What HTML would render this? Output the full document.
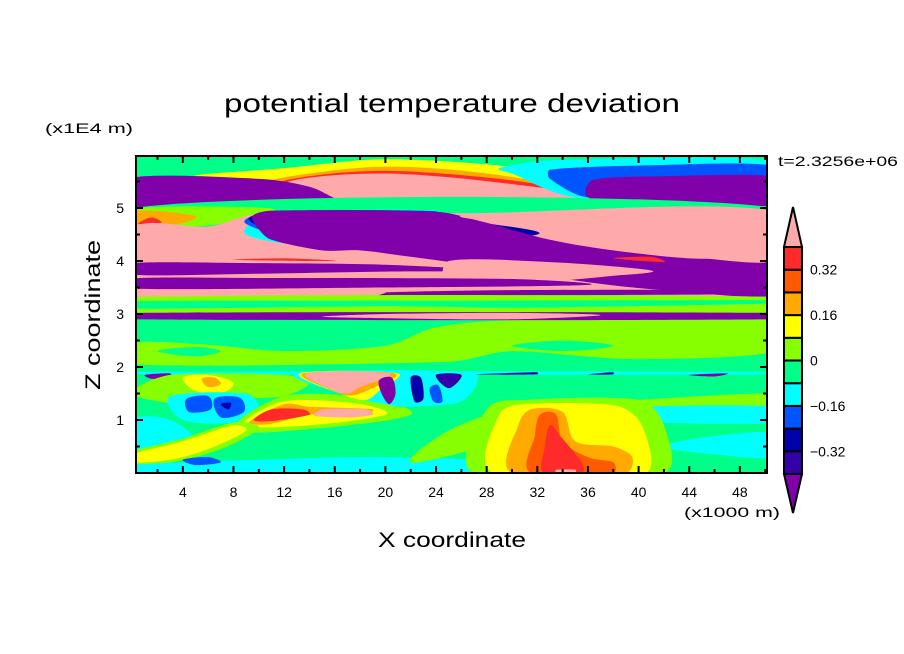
<!DOCTYPE html>
<html><head><meta charset="utf-8"><style>
html,body{margin:0;padding:0;background:#fff;}
svg{display:block;font-family:"Liberation Sans",sans-serif;}
</style></head><body>
<svg id="chart" width="904" height="654" viewBox="0 0 904 654">
<defs><clipPath id="pc"><rect x="136" y="156" width="631" height="317"/></clipPath></defs>
<text x="452" y="112" text-anchor="middle" font-size="26" textLength="456" lengthAdjust="spacingAndGlyphs">potential temperature deviation</text>
<text x="45" y="133" font-size="14" textLength="88" lengthAdjust="spacingAndGlyphs">(x1E4 m)</text>
<text x="778" y="166" font-size="14" textLength="120" lengthAdjust="spacingAndGlyphs">t=2.3256e+06</text>
<text x="684" y="517" font-size="14" textLength="96" lengthAdjust="spacingAndGlyphs">(x1000 m)</text>
<text x="452" y="547" text-anchor="middle" font-size="21" textLength="148" lengthAdjust="spacingAndGlyphs">X coordinate</text>
<text transform="translate(100,315) rotate(-90)" text-anchor="middle" font-size="21" textLength="150" lengthAdjust="spacingAndGlyphs">Z coordinate</text>
<g id="fields" clip-path="url(#pc)"></g>
<rect x="136" y="156" width="631" height="317" fill="none" stroke="#000" stroke-width="2"/>
<g id="ticks"></g>
<g id="cbar"></g>
</svg>
<script>
const NS="http://www.w3.org/2000/svg";
const colors={P:"#ffaaaa",R:"#ff2a2a",OR:"#ff5a00",O:"#ffaa00",Y:"#ffff00",YG:"#88ff00",G:"#00ff88",C:"#00ffff",B:"#0055ff",DB:"#0000aa",IN:"#3300aa",PU:"#8000aa"};
const xTicks=[4,8,12,16,20,24,28,32,36,40,44,48];
const zTicks=[1,2,3,4,5];
const cbLevels=["PU","IN","DB","B","C","G","YG","Y","O","OR","R","P"];
const cbLabels=["-0.32","-0.16","0","0.16","0.32"];
const cbLabelVals=[-0.32,-0.16,0,0.16,0.32];
const regionLevels=["G","YG","G","G","G","YG","Y","O","R","P","C","B","PU","PU","G","YG","O","R","P","C","B","DB","PU","P","PU","P","G","R","R","PU","PU","P","YG","G","PU","P","C","PU","PU","IN","PU","IN","PU","YG","Y","O","C","B","B","DB","YG","Y","O","R","P","C","Y","O","P","PU","DB","IN","B","C","YG","Y","C","B","YG","C","C","YG","Y","O","OR","R","P"];
const regionShapes=[
[[0,0],[51,0],[51,6.1],[0,6.1]],
[[0,2.05],[0,2.45],[6,2.42],[12,2.3],[20,2.4],[24,2.75],[30,2.88],[51,2.88],[51,2.3],[40,2.15],[30,2.3],[25,2.1]],
[[2,2.3],[5,2.38],[7,2.3],[5,2.2]],
[[30,2.4],[34,2.5],[38,2.4],[34,2.3]],
[[0,2.95],[51,2.95],[51,3.35],[0,3.35]],
[[0,3.08],[20,3.12],[35,3.1],[51,3.2],[51,3.28],[30,3.25],[0,3.22]],
[[5,5.6],[12,5.75],[20,5.92],[30,5.78],[35,5.55],[30,5.4],[15,5.5]],
[[10,5.45],[14,5.65],[20,5.78],[27,5.68],[33,5.45],[38,5.12],[30,5.05],[18,5.05],[12,5.2]],
[[11.3,5.45],[15,5.63],[20,5.7],[26,5.62],[32,5.45],[38.5,5.12],[30,5.07],[18,5.05],[13,5.18]],
[[12,5.45],[15,5.6],[20,5.65],[25,5.58],[30,5.45],[35,5.3],[38,5.15],[33,5.12],[25,5.08],[18,5.06],[14,5.15]],
[[29,5.75],[33,5.9],[51,5.88],[51,5.1],[35,5.2],[30,5.65]],
[[33,5.72],[40,5.8],[51,5.78],[51,5.1],[36,5.2],[33,5.55]],
[[36.4,5.53],[42,5.6],[51,5.58],[51,5.06],[40,5.08],[36,5.2]],
[[0,5.57],[10,5.55],[14,5.4],[17,5.1],[22,5.03],[0,5.03]],
[[0,3.32],[51,3.32],[51,5.0],[0,5.0]],
[[0,4.62],[5,4.65],[8,4.75],[11,4.99],[0,4.99]],
[[0,4.65],[3,4.66],[5,4.85],[0,4.95]],
[[0.5,4.7],[1.5,4.82],[2.3,4.72]],
[[0,3.32],[51,3.32],[51,4.92],[26,4.9],[12,4.95],[9,4.85],[6,4.65],[0,4.62]],
[[9,4.5],[11,4.9],[24,4.95],[22,4.7],[15,4.3]],
[[9,4.7],[11,4.93],[24,4.94],[23,4.75],[15,4.35]],
[[9.2,4.78],[11,4.92],[24,4.93],[27,4.75],[32,4.5],[20,4.3],[12,4.5]],
[[9.5,4.85],[11,4.95],[24,4.93],[28,4.72],[33,4.4],[38,4.2],[44,4.05],[51,4.0],[51,3.35],[42,3.45],[36,3.6],[30,3.82],[26,3.95],[22,4.08],[18,4.2],[15,4.2],[11,4.4],[10,4.6]],
[[26,4.85],[32,4.88],[40,4.9],[51,4.9],[51,4.02],[44,4.08],[40,4.18],[36,4.38],[32,4.58],[28,4.75]],
[[0,3.74],[10,3.76],[20,3.8],[28,3.82],[20,3.93],[10,3.96],[0,3.96]],
[[25,3.55],[32,3.6],[38,3.72],[41,3.82],[33,3.98],[25,4.0]],
[[0,3.32],[51,3.32],[51,3.0],[0,3.0]],
[[38,4.05],[41,4.08],[42,3.98]],
[[8,4.02],[12,4.05],[16,4.0]],
[[0,3.48],[20,3.5],[36,3.55],[30,3.66],[10,3.68],[0,3.67]],
[[19,3.32],[30,3.35],[51,3.38],[51,3.45],[30,3.45],[19,3.4]],
[[0,3.33],[19,3.34],[20,3.42],[0,3.45]],
[[0,3.02],[51,3.02],[51,3.32],[0,3.32]],
[[0,3.1],[20,3.15],[30,3.12],[51,3.2],[51,3.26],[25,3.25],[0,3.24]],
[[0,2.9],[51,2.9],[51,3.02],[0,3.02]],
[[15,2.95],[20,3.0],[30,3.02],[37,2.98],[30,2.9],[20,2.92]],
[[0,1.86],[51,1.86],[51,1.91],[0,1.91]],
[[1,1.85],[3,1.88],[3,1.8],[1.5,1.78]],
[[5,1.82],[7,1.88],[6.5,1.8]],
[[27,1.86],[32,1.9],[32,1.86]],
[[21,1.86],[23,1.9],[22.5,1.84]],
[[36,1.86],[38,1.9],[38,1.86]],
[[44,1.85],[47,1.88],[46,1.82]],
[[0,1.5],[3,1.85],[12,1.85],[14,1.7],[12,1.45],[8,1.4],[4,1.3]],
[[4,1.8],[6,1.85],[8,1.7],[7,1.5],[5,1.55]],
[[5.5,1.78],[6.5,1.8],[7,1.68],[6,1.62]],
[[3,1.45],[9,1.5],[10,1.2],[8,0.95],[4,1.0]],
[[4.3,1.4],[6,1.45],[6.2,1.2],[4.5,1.15]],
[[6.5,1.4],[8.5,1.42],[8.8,1.15],[7,1.05]],
[[7,1.3],[7.8,1.32],[7.6,1.2]],
[[8,0.8],[12,1.45],[19,1.4],[22,1.1],[15,0.85]],
[[8.8,0.9],[12,1.35],[18,1.3],[20,1.1],[14,0.9]],
[[9.2,0.95],[12,1.3],[14,1.25],[19,1.2],[18.5,1.1],[14,1.1],[11,0.93]],
[[9.6,1.0],[11,1.2],[13.5,1.2],[14,1.1],[11,0.98]],
[[14.4,1.08],[15,1.2],[18.5,1.2],[19,1.1],[17,1.05]],
[[13,1.88],[27,1.88],[26,1.35],[21,1.25],[20,1.3],[18,1.4]],
[[13.2,1.88],[21,1.88],[19.5,1.55],[18.5,1.38],[17,1.45]],
[[13.5,1.88],[20.7,1.88],[18.5,1.55],[17.3,1.46],[16.2,1.52]],
[[13.8,1.88],[20.3,1.88],[18,1.62],[17,1.5],[16,1.55]],
[[19.5,1.75],[20.5,1.8],[20.8,1.5],[20.3,1.3],[19.7,1.5]],
[[22,1.8],[22.8,1.8],[23,1.4],[22.3,1.35]],
[[24,1.85],[26,1.85],[25,1.6]],
[[23.5,1.6],[24.2,1.65],[24.5,1.35],[23.8,1.35]],
[[0,0.3],[0,1.0],[3,1.0],[5,0.6],[3,0.3]],
[[0,0.15],[0,0.4],[4,0.65],[8,0.95],[10,0.85],[7,0.45],[3,0.2]],
[[0,0.2],[0,0.35],[4,0.6],[8,0.9],[9,0.8],[6,0.45],[3,0.25]],
[[0,0],[0,0.15],[10,0.25],[20,0.3],[30,0.2],[32,0]],
[[4,0.25],[6,0.3],[7,0.2],[5,0.15]],
[[22,0.2],[25,0.8],[30,1.2],[40,1.38],[51,1.5],[51,1.25],[40,1.2],[35,0.9],[28,0.5]],
[[36,1.1],[40,1.25],[51,1.25],[51,0.95],[42,0.95]],
[[42,0.5],[46,0.7],[51,0.75],[51,0.3],[46,0.35]],
[[27,0],[28,1.2],[31,1.38],[40,1.38],[42,0.9],[42,0]],
[[28.5,0],[29,1.1],[31,1.3],[38,1.28],[40,1.0],[41,0.3],[40.5,0]],
[[30,0],[30.5,0.9],[31.5,1.2],[34,1.15],[35,0.6],[38,0.5],[39.5,0.3],[39,0]],
[[31.5,0],[31.8,0.7],[32.2,1.1],[33.5,1.1],[34,0.6],[36,0.3],[38,0.2],[38,0]],
[[32.5,0],[32.6,0.5],[33,0.9],[33.8,0.7],[35.5,0.2],[35.5,0]],
[[33.5,0],[33.5,0.06],[35,0.06],[35,0]]
];
const X0=136,XS=12.66,XMIN=0.3,Z0=473,ZS=53;
function sx(x){return X0+(x-XMIN)*XS;}
function sz(z){return Z0-z*ZS;}
function smoothPath(P){
  const n=P.length;let d='M'+P[0][0].toFixed(1)+','+P[0][1].toFixed(1);
  function cap(v,len){const m=Math.hypot(v[0],v[1]);const mx=0.35*len;if(m>mx&&m>0){return [v[0]*mx/m,v[1]*mx/m];}return v;}
  for(let i=0;i<n;i++){
    const p0=P[(i-1+n)%n],p1=P[i],p2=P[(i+1)%n],p3=P[(i+2)%n];
    const len=Math.hypot(p2[0]-p1[0],p2[1]-p1[1]);
    const t1=cap([(p2[0]-p0[0])/6,(p2[1]-p0[1])/6],len);
    const t2=cap([(p3[0]-p1[0])/6,(p3[1]-p1[1])/6],len);
    d+=' C'+(p1[0]+t1[0]).toFixed(1)+','+(p1[1]+t1[1]).toFixed(1)+' '+(p2[0]-t2[0]).toFixed(1)+','+(p2[1]-t2[1]).toFixed(1)+' '+p2[0].toFixed(1)+','+p2[1].toFixed(1);
  }
  return d+'Z';
}
const fields=document.getElementById('fields');
regionShapes.forEach((pts,i)=>{
  const p=document.createElementNS(NS,'path');
  p.setAttribute('d',smoothPath(pts.map(q=>[sx(q[0]),sz(q[1])])));
  p.setAttribute('fill',colors[regionLevels[i]]);
  
  
  fields.appendChild(p);
});
const tg=document.getElementById('ticks');
function line(x1,y1,x2,y2,w){const l=document.createElementNS(NS,'line');l.setAttribute('x1',x1);l.setAttribute('y1',y1);l.setAttribute('x2',x2);l.setAttribute('y2',y2);l.setAttribute('stroke','#000');l.setAttribute('stroke-width',w);


tg.appendChild(l);}
for(let v=2;v<=50;v+=2){const x=sx(v);const L=(v%4===0)?7:4;line(x,473,x,473-L,2);line(x,156,x,156+L,2);}
for(let v=0.5;v<5.98;v+=0.5){const y=sz(v);const L=(Math.abs(v-Math.round(v))<0.01)?7:4;line(136,y,136+L,y,2);line(767,y,767-L,y,2);}
xTicks.forEach(v=>{const t=document.createElementNS(NS,'text');t.setAttribute('x',sx(v));t.setAttribute('y',497);t.setAttribute('text-anchor','middle');t.setAttribute('font-size','14');t.textContent=v;


tg.appendChild(t);});
zTicks.forEach(v=>{const t=document.createElementNS(NS,'text');t.setAttribute('x',124);t.setAttribute('y',sz(v)+5);t.setAttribute('text-anchor','end');t.setAttribute('font-size','14');t.textContent=v;


tg.appendChild(t);});
const cb=document.getElementById('cbar');
const CX=784,CW=18,CTOP=247,CH=22.7;
const boxes=cbLevels.slice(1,11);
function cbY(v){return CTOP+5*CH-(v/0.08)*CH;}
boxes.forEach((k,i)=>{const r=document.createElementNS(NS,'rect');const y=CTOP+(9-i)*CH;r.setAttribute('x',CX);r.setAttribute('y',y);r.setAttribute('width',CW);r.setAttribute('height',CH);r.setAttribute('fill',colors[k]);r.setAttribute('stroke','#000');r.setAttribute('stroke-width','2');


cb.appendChild(r);});
const up=document.createElementNS(NS,'polygon');up.setAttribute('points',`${CX},${CTOP} ${CX+CW/2},207 ${CX+CW},${CTOP}`);up.setAttribute('fill',colors.P);up.setAttribute('stroke','#000');up.setAttribute('stroke-width','2');


cb.appendChild(up);
const dn=document.createElementNS(NS,'polygon');const yb=CTOP+10*CH;dn.setAttribute('points',`${CX},${yb} ${CX+CW/2},513 ${CX+CW},${yb}`);dn.setAttribute('fill',colors.PU);dn.setAttribute('stroke','#000');dn.setAttribute('stroke-width','2');


cb.appendChild(dn);
cbLabels.forEach((s,i)=>{const t=document.createElementNS(NS,'text');t.setAttribute('x',810);t.setAttribute('y',cbY(cbLabelVals[i])+5);t.setAttribute('font-size','14');t.textContent=s.replace('-','\u2212');


cb.appendChild(t);});
</script>
</body></html>
